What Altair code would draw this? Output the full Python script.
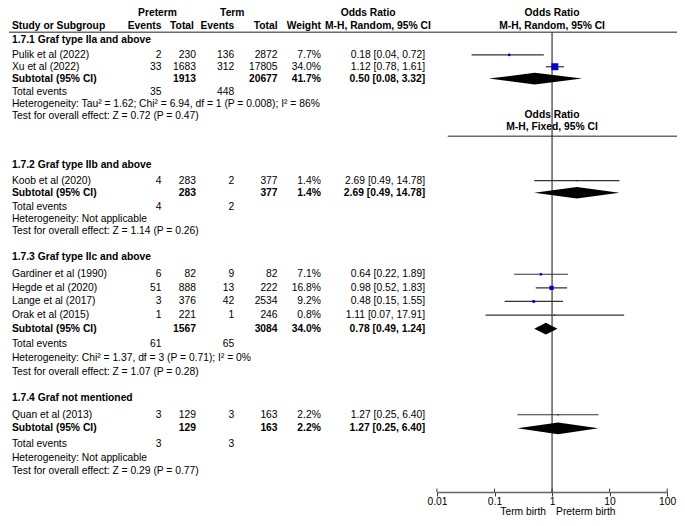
import altair as alt
import pandas as pd

# ---------------- data ----------------
groups = ["1.7.1 Graf type IIa and above", "1.7.2 Graf type IIb and above",
          "1.7.3 Graf type IIc and above", "1.7.4 Graf not mentioned"]
study_group = [0, 0, 1, 2, 2, 2, 2, 3]
study_names = ["Pulik et al (2022)", "Xu et al (2022)", "Koob et al (2020)",
               "Gardiner et al (1990)", "Hegde et al (2020)", "Lange et al (2017)",
               "Orak et al (2015)", "Quan et al (2013)"]
pre_events = [2, 33, 4, 6, 51, 3, 1, 3]
pre_total = [230, 1683, 283, 82, 888, 376, 221, 129]
term_events = [136, 312, 2, 9, 13, 42, 1, 3]
term_total = [2872, 17805, 377, 82, 222, 2534, 246, 163]
weights = [7.7, 34.0, 1.4, 7.1, 16.8, 9.2, 0.8, 2.2]
or_est = [0.18, 1.12, 2.69, 0.64, 0.98, 0.48, 1.11, 1.27]
or_lo = [0.04, 0.78, 0.49, 0.22, 0.52, 0.15, 0.07, 0.25]
or_hi = [0.72, 1.61, 14.78, 1.89, 1.83, 1.55, 17.91, 6.40]

sub_pre_total = [1913, 283, 1567, 129]
sub_term_total = [20677, 377, 3084, 163]
sub_weight = [41.7, 1.4, 34.0, 2.2]
sub_est = [0.50, 2.69, 0.78, 1.27]
sub_lo = [0.08, 0.49, 0.49, 0.25]
sub_hi = [3.32, 14.78, 1.24, 6.40]
tot_pre_events = [35, 4, 61, 3]
tot_term_events = [448, 2, 65, 3]
heterogeneity = [
    "Heterogeneity: Tau\u00b2 = 1.62; Chi\u00b2 = 6.94, df = 1 (P = 0.008); I\u00b2 = 86%",
    "Heterogeneity: Not applicable",
    "Heterogeneity: Chi\u00b2 = 1.37, df = 3 (P = 0.71); I\u00b2 = 0%",
    "Heterogeneity: Not applicable",
]
overall = [
    "Test for overall effect: Z = 0.72 (P = 0.47)",
    "Test for overall effect: Z = 1.14 (P = 0.26)",
    "Test for overall effect: Z = 1.07 (P = 0.28)",
    "Test for overall effect: Z = 0.29 (P = 0.77)",
]
axis_ticks = [0.01, 0.1, 1, 10, 100]
favours = ["Term birth", "Preterm birth"]

# ---------------- layout ----------------
FONT = "Liberation Sans"
FS = 10.3
W, H = 669, 484
REFX = (4, 684)
REFY = (1, 499.2)          # reference rows mapped onto the plot; axis sits at the bottom
COL = {"name": 8, "pe": 160, "pt": 195, "te": 234, "tt": 278, "w": 322, "ci": 428}
pitch = [12.2, 12.5, 14.0, 14.0]
gap_after = [51, 27, 27]
DIAMOND_HALF = 6.0
FAV_POS = 520.3


def cx(r):
    return (r - REFX[0]) * W / (REFX[1] - REFX[0])


xs = alt.Scale(domain=list(REFX), range=[0, W], zero=False, nice=False)
ys = alt.Scale(domain=list(REFY), range=[0, H], zero=False, nice=False)
fs = alt.Scale(type="log", domain=[0.01, 100], range=[cx(440), cx(674)], nice=False)

text_rows = []


def add(pos, x, text, kind):
    text_rows.append({"pos": pos, "x": x, "text": text, "kind": kind})


def fmt_ci(e, l, h):
    return f"{e:.2f} [{l:.2f}, {h:.2f}]"


# headers
add(6, 156, "Preterm", "CB")
add(6, 232, "Term", "CB")
add(6, 370, "Odds Ratio", "CB")
add(19.3, COL["name"], "Study or Subgroup", "LB")
add(19.3, COL["pe"], "Events", "RB")
add(19.3, COL["pt"] - 2, "Total", "RB")
add(19.3, COL["te"], "Events", "RB")
add(19.3, COL["tt"], "Total", "RB")
add(19.3, COL["w"], "Weight", "RB")
add(19.3, 380, "M-H, Random, 95% CI", "CB")

study_rows = []
diamond_rows = []
y = 34
for g in range(4):
    s = pitch[g]
    add(y, COL["name"], groups[g], "LB")
    y += 1.25 * s
    for i, sg in enumerate(study_group):
        if sg != g:
            continue
        add(y, COL["name"], study_names[i], "L")
        add(y, COL["pe"], str(pre_events[i]), "R")
        add(y, COL["pt"], str(pre_total[i]), "R")
        add(y, COL["te"], str(term_events[i]), "R")
        add(y, COL["tt"], str(term_total[i]), "R")
        add(y, COL["w"], f"{weights[i]:.1f}%", "R")
        add(y, COL["ci"], fmt_ci(or_est[i], or_lo[i], or_hi[i]), "R")
        study_rows.append({"pos": y, "est": or_est[i], "lo": or_lo[i],
                           "hi": or_hi[i], "w": weights[i]})
        y += s
    add(y, COL["name"], "Subtotal (95% CI)", "LB")
    add(y, COL["pt"], str(sub_pre_total[g]), "RB")
    add(y, COL["tt"], str(sub_term_total[g]), "RB")
    add(y, COL["w"], f"{sub_weight[g]:.1f}%", "RB")
    add(y, COL["ci"], fmt_ci(sub_est[g], sub_lo[g], sub_hi[g]), "RB")
    diamond_rows += [
        {"g": g, "v": sub_lo[g], "y1": y, "y2": y},
        {"g": g, "v": sub_est[g], "y1": y - DIAMOND_HALF, "y2": y + DIAMOND_HALF},
        {"g": g, "v": sub_hi[g], "y1": y, "y2": y},
    ]
    y += 1.15 * s
    add(y, COL["name"], "Total events", "L")
    add(y, COL["pe"], str(tot_pre_events[g]), "R")
    add(y, COL["te"], str(tot_term_events[g]), "R")
    y += s
    add(y, COL["name"], heterogeneity[g], "L")
    y += s
    add(y, COL["name"], overall[g], "L")
    if g < 3:
        y += gap_after[g]

tdf = pd.DataFrame(text_rows)
sdf = pd.DataFrame(study_rows)
ddf = pd.DataFrame(diamond_rows)

layers = []
styles = {"L": ("left", "normal"), "LB": ("left", "bold"), "R": ("right", "normal"),
          "RB": ("right", "bold"), "CB": ("center", "bold")}
for kind, (al, fw) in styles.items():
    layers.append(
        alt.Chart(tdf[tdf.kind == kind]).mark_text(
            align=al, baseline="middle", font=FONT, fontSize=FS, fontWeight=fw, color="#000"
        ).encode(
            x=alt.X("x:Q", scale=xs, axis=None),
            y=alt.Y("pos:Q", scale=ys, axis=None),
            text="text:N",
        )
    )

# header rules
hl = pd.DataFrame({"x1": [5, 451], "x2": [684, 684], "pos": [26, 133]})
layers.append(
    alt.Chart(hl).mark_rule(color="#6b6b6b", strokeWidth=1.5).encode(
        x=alt.X("x1:Q", scale=xs, axis=None), x2="x2:Q",
        y=alt.Y("pos:Q", scale=ys, axis=None),
    )
)

# forest headers
fh = pd.DataFrame({"v": [1, 1, 1, 1], "pos": [6, 19.3, 111, 123.5],
                   "text": ["Odds Ratio", "M-H, Random, 95% CI", "Odds Ratio", "M-H, Fixed, 95% CI"]})
layers.append(
    alt.Chart(fh).mark_text(align="center", baseline="middle", font=FONT, fontSize=FS,
                            fontWeight="bold", color="#000").encode(
        x=alt.X("v:Q", scale=fs, axis=None),
        y=alt.Y("pos:Q", scale=ys, axis=None),
        text="text:N",
    )
)

# vertical line of no effect, carrying the log axis
vl = pd.DataFrame({"v": [1], "y1": [26], "y2": [REFY[1]]})
layers.append(
    alt.Chart(vl).mark_rule(color="#111", strokeWidth=1).encode(
        x=alt.X("v:Q", scale=fs, axis=alt.Axis(
            values=axis_ticks, format="~g", title=None, grid=False,
            domainColor="#666", domainWidth=1.3, tickColor="#333", tickSize=4,
            labelFont=FONT, labelFontSize=FS, labelColor="#000", labelPadding=0,
            labelFlush=False, labelOverlap=False, labelBound=False)),
        y=alt.Y("y1:Q", scale=ys, axis=None), y2="y2:Q",
    )
)
# upper half of the axis ticks (ticks cross the axis line)
tk = pd.DataFrame({"v": axis_ticks, "y1": [REFY[1] - 3.5] * 5, "y2": [REFY[1]] * 5})
layers.append(
    alt.Chart(tk).mark_rule(color="#333", strokeWidth=1).encode(
        x=alt.X("v:Q", scale=fs, axis=None),
        y=alt.Y("y1:Q", scale=ys, axis=None), y2="y2:Q",
    )
)

# CI lines
layers.append(
    alt.Chart(sdf).mark_rule(color="#333", strokeWidth=1.2).encode(
        x=alt.X("lo:Q", scale=fs, axis=None), x2="hi:Q",
        y=alt.Y("pos:Q", scale=ys, axis=None),
    )
)
# weight squares
layers.append(
    alt.Chart(sdf).mark_square(filled=True, color="#0000cc", opacity=1).encode(
        x=alt.X("est:Q", scale=fs, axis=None),
        y=alt.Y("pos:Q", scale=ys, axis=None),
        size=alt.Size("w:Q", scale=alt.Scale(type="pow", exponent=1.5, domain=[0, 34], range=[1, 49]),
                      legend=None),
    )
)
# diamonds
layers.append(
    alt.Chart(ddf).mark_area(color="#000", orient="vertical", opacity=1).encode(
        x=alt.X("v:Q", scale=fs, axis=None),
        y=alt.Y("y1:Q", scale=ys, axis=None), y2="y2:Q",
        detail="g:N",
    )
)

# favours labels
fav = pd.DataFrame({"v": [1, 1], "pos": [FAV_POS, FAV_POS], "text": favours})
layers.append(
    alt.Chart(fav[fav.text == favours[0]]).mark_text(
        align="right", baseline="middle", dx=-6, font=FONT, fontSize=FS, color="#000").encode(
        x=alt.X("v:Q", scale=fs, axis=None), y=alt.Y("pos:Q", scale=ys, axis=None), text="text:N")
)
layers.append(
    alt.Chart(fav[fav.text == favours[1]]).mark_text(
        align="left", baseline="middle", dx=4, font=FONT, fontSize=FS, color="#000").encode(
        x=alt.X("v:Q", scale=fs, axis=None), y=alt.Y("pos:Q", scale=ys, axis=None), text="text:N")
)

chart = alt.layer(*layers).resolve_scale(x="independent").properties(
    width=W, height=H,
    autosize=alt.AutoSizeParams(type="none"),
    padding={"left": 0, "top": 0, "right": 0, "bottom": 26},
).configure_view(stroke=None)

chart.save("out.html", embed_options={"renderer": "svg", "actions": False})
